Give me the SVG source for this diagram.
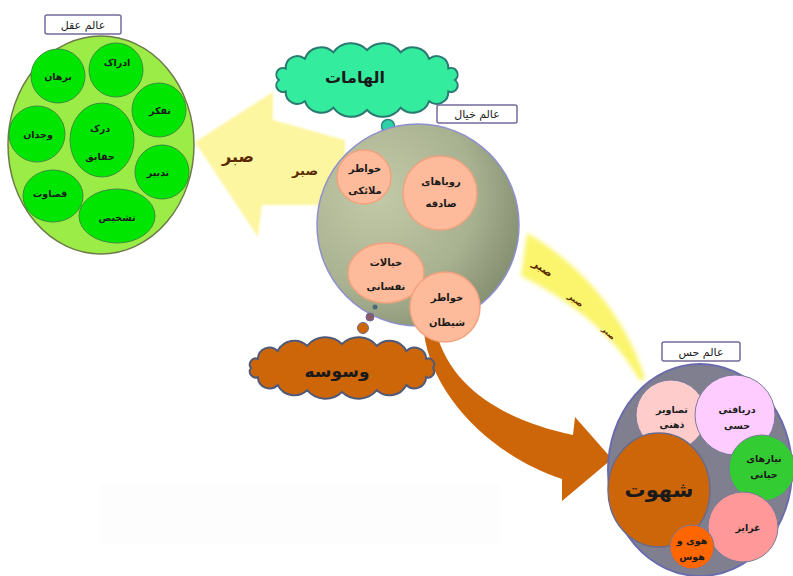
<svg xmlns="http://www.w3.org/2000/svg" width="793" height="576" viewBox="0 0 793 576">
<defs>
<style>
text{font-family:"DejaVu Sans",sans-serif;text-anchor:middle;fill:#1a1a1a;font-weight:bold}
.lbl{fill:#ffffff;stroke:#75699a;stroke-width:1.5}
.lt{font-size:11px;font-weight:normal}
.g{fill:#00e600;stroke:#3a8f3a;stroke-width:1}
.gt{font-size:9.5px}
.p{fill:#fdbb9b;stroke:#f2a27e;stroke-width:1.5}
.pt{font-size:10px}
.rt{font-size:9.5px}
.sabr{fill:#5a2a00}
</style>
<radialGradient id="mid" cx="0.3" cy="0.35" r="0.8">
<stop offset="0" stop-color="#c3caa8"/>
<stop offset="0.6" stop-color="#a8b190"/>
<stop offset="1" stop-color="#7f8a6c"/>
</radialGradient>
<filter id="soft" x="-10%" y="-10%" width="120%" height="120%"><feGaussianBlur stdDeviation="1.2"/></filter>
<filter id="soft2" x="-20%" y="-20%" width="140%" height="140%"><feGaussianBlur stdDeviation="2"/></filter>
</defs>
<rect width="793" height="576" fill="#ffffff"/>
<rect x="100" y="485" width="400" height="58" fill="#fdfdfd"/>

<g id="connectors">
<path id="arrow-sabr" d="M195,142 L273,92 L273,120 L345,140 L345,205 L262,205 L258,237 Z" fill="#fdf6a0" filter="url(#soft)"/>
<path id="band-sabr" d="M527,233 C565,255 620,300 645,378 L640,381 C615,335 570,300 521,276 Z" fill="#faf56c" filter="url(#soft2)"/>
<path id="arrow-shahvat" d="M424,333 C432,395 490,455 562,479 L562,501 L612,459 L575,417 L573,435 C505,420 452,390 436,332 Z" fill="#cc6608"/>
<text class="sabr" x="238" y="162" font-size="16">صبر</text>
<text class="sabr" x="305" y="175" font-size="13">صبر</text>
<text class="sabr" x="543" y="272" font-size="11" transform="rotate(35 543 268)">صبر</text>
<text class="sabr" x="576" y="303" font-size="8.5" transform="rotate(38 576 300)">صبر</text>
<text class="sabr" x="609" y="336" font-size="7.5" transform="rotate(45 609 333)">صبر</text>
</g>

<g id="alam-aql">
<ellipse cx="101" cy="145" rx="93" ry="109" fill="#9bec47" stroke="#6f7a4a" stroke-width="1.5"/>
<rect class="lbl" x="45" y="15" width="76" height="19" rx="2"/>
<text class="lt" x="83" y="29">عالم عقل</text>
<circle class="g" cx="58" cy="76" r="27"/>
<circle class="g" cx="116" cy="70" r="27"/>
<circle class="g" cx="159" cy="110" r="27"/>
<circle class="g" cx="37" cy="134" r="28"/>
<ellipse class="g" cx="102" cy="140" rx="32" ry="37"/>
<circle class="g" cx="162" cy="172" r="27"/>
<ellipse class="g" cx="53" cy="196" rx="30" ry="26"/>
<ellipse class="g" cx="117" cy="216" rx="38" ry="27"/>
<text class="gt" x="58" y="80">برهان</text>
<text class="gt" x="117" y="66">ادراک</text>
<text class="gt" x="160" y="114">تفکر</text>
<text class="gt" x="38" y="138">وجدان</text>
<text class="gt" x="100" y="132">درک</text>
<text class="gt" x="100" y="160">حقایق</text>
<text class="gt" x="158" y="176">تدبیر</text>
<text class="gt" x="50" y="197">قضاوت</text>
<text class="gt" x="117" y="221">تشخیص</text>
</g>

<g id="elhamat">
<path d="M279,80 A6.7,6.7 0 0 1 285.7,68.5 A11.7,11.7 0 0 1 304.8,58.8 A17.3,17.3 0 0 1 333.3,52.3 A21.9,21.9 0 0 1 367,50 A21.9,21.9 0 0 1 400.7,52.3 A17.3,17.3 0 0 1 429.2,58.8 A11.7,11.7 0 0 1 448.3,68.5 A6.7,6.7 0 0 1 455,80 A6.7,6.7 0 0 1 448.3,91.5 A11.7,11.7 0 0 1 429.2,101.2 A17.3,17.3 0 0 1 400.7,107.7 A21.9,21.9 0 0 1 367,110 A21.9,21.9 0 0 1 333.3,107.7 A17.3,17.3 0 0 1 304.8,101.2 A11.7,11.7 0 0 1 285.7,91.5 A6.7,6.7 0 0 1 279,80 Z" fill="#33ec9e" stroke="#2a7a72" stroke-width="2"/>
<text x="355" y="83" font-size="16" fill="#0d3a20">الهامات</text>
<circle cx="388" cy="126" r="6.5" fill="#2ed1a8" stroke="#2a8a80" stroke-width="1.5"/>
<circle cx="396" cy="140" r="4.5" fill="#2ed1a8" stroke="#2a8a80" stroke-width="1.5"/>
<circle cx="400" cy="149" r="2.5" fill="#2a8a80"/>
</g>

<g id="alam-khiyal">
<circle cx="418" cy="225" r="101" fill="url(#mid)" stroke="#8f8fd0" stroke-width="1.5"/>
<rect class="lbl" x="437" y="105" width="80" height="18" rx="2"/>
<text class="lt" x="477" y="118">عالم خیال</text>
<circle class="p" cx="364" cy="177" r="27"/>
<circle class="p" cx="440" cy="193" r="37"/>
<ellipse class="p" cx="386" cy="273" rx="38" ry="30"/>
<circle class="p" cx="445" cy="307" r="35"/>
<text class="pt" x="365" y="172">خواطر</text>
<text class="pt" x="365" y="194">ملائکی</text>
<text class="pt" x="441" y="185">رویاهای</text>
<text class="pt" x="441" y="207">صادقه</text>
<text class="pt" x="386" y="266">خیالات</text>
<text class="pt" x="386" y="290">نفسانی</text>
<text class="pt" x="447" y="301">خواطر</text>
<text class="pt" x="447" y="326">شیطان</text>
<circle cx="375" cy="307" r="2.5" fill="#4a6a7a"/>
<circle cx="370" cy="317" r="4" fill="#8a5a6a" stroke="#6a6a9a" stroke-width="1"/>
<circle cx="363" cy="328" r="5.5" fill="#cc6608" stroke="#6a6a9a" stroke-width="1"/>
</g>

<g id="vasvaseh">
<path d="M251,368 A6,6 0 0 1 257.9,358.8 A11.6,11.6 0 0 1 277.7,351 A18.6,18.6 0 0 1 307.1,345.8 A24,24 0 0 1 342,344 A24,24 0 0 1 376.9,345.8 A18.6,18.6 0 0 1 406.3,351 A11.6,11.6 0 0 1 426.1,358.8 A6,6 0 0 1 433,368 A6,6 0 0 1 426.1,377.2 A11.6,11.6 0 0 1 406.3,385 A18.6,18.6 0 0 1 376.9,390.2 A24,24 0 0 1 342,392 A24,24 0 0 1 307.1,390.2 A18.6,18.6 0 0 1 277.7,385 A11.6,11.6 0 0 1 257.9,377.2 A6,6 0 0 1 251,368 Z" fill="#cc6608" stroke="#505a78" stroke-width="2"/>
<text x="337" y="377" font-size="17" fill="#3a1200">وسوسه</text>
</g>

<g id="alam-hess">
<ellipse cx="700" cy="470" rx="92" ry="106" fill="#7f7f90" stroke="#6a6aae" stroke-width="2"/>
<rect class="lbl" x="662" y="342" width="78" height="19" rx="2"/>
<text class="lt" x="701" y="356">عالم حس</text>
<circle cx="671" cy="415" r="35" fill="#ffcccc" stroke="#7a7a9a" stroke-width="1"/>
<text class="rt" x="672" y="413">تصاویر</text>
<text class="rt" x="672" y="428">ذهنی</text>
<circle cx="735" cy="415" r="40" fill="#ffccff" stroke="#7a7a9a" stroke-width="1"/>
<text class="rt" x="737" y="413">دریافتی</text>
<text class="rt" x="737" y="429">حسی</text>
<circle cx="762" cy="468" r="33" fill="#33cc33" stroke="#7a7a9a" stroke-width="1"/>
<text class="rt" x="764" y="462" font-size="8">نیازهای</text>
<text class="rt" x="764" y="478" font-size="8">حیاتی</text>
<ellipse cx="659" cy="490" rx="51" ry="57" fill="#cc6608" stroke="#6a6a8a" stroke-width="1.5"/>
<text x="659" y="497" font-size="21" fill="#2a1000">شهوت</text>
<circle cx="743" cy="527" r="35" fill="#ff9999" stroke="#7a7a9a" stroke-width="1"/>
<text class="rt" x="748" y="531" font-size="11">غرایز</text>
<circle cx="692" cy="547" r="22" fill="#ff6600" stroke="#7a7a9a" stroke-width="1"/>
<text class="rt" x="692" y="544" font-size="8.5">هوی و</text>
<text class="rt" x="692" y="560" font-size="8.5">هوس</text>
</g>
</svg>
